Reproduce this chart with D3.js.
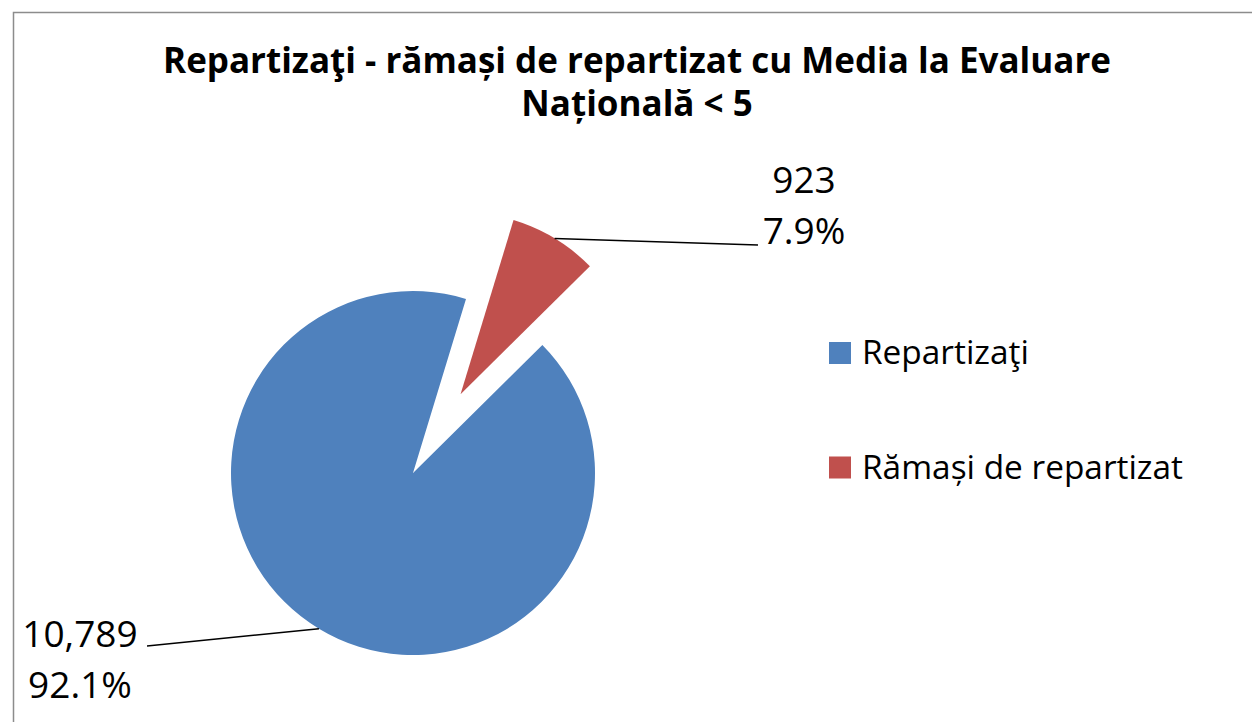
<!DOCTYPE html>
<html>
<head>
<meta charset="utf-8">
<script src="https://cdnjs.cloudflare.com/ajax/libs/d3/7.8.5/d3.min.js"></script>
<style>
  body { margin: 0; background: #fff; }
  text { font-family: "Open Sans", sans-serif; fill: #000; }
</style>
</head>
<body>
<svg width="1252" height="722"></svg>
<script>
// data
var categories = ["Repartizaţi", "Rămași de repartizat"];
var values = [10789, 923];
var colors = ["#4F81BD", "#C0504D"];
var titleLines = ["Repartizaţi - rămași de repartizat cu Media la Evaluare", "Națională < 5"];

var width = 1252, height = 722;
var svg = d3.select("svg");

// chart frame (only top + left edges visible in the crop)
svg.append("rect")
    .attr("x", 13.5).attr("y", 12.5)
    .attr("width", 1260).attr("height", 740)
    .attr("fill", "none")
    .attr("stroke", "#8c8c8c")
    .attr("stroke-width", 1.5);

// title
svg.append("text")
    .attr("text-anchor", "middle")
    .attr("font-weight", "bold")
    .attr("font-size", 35)
    .selectAll("tspan")
    .data(titleLines)
    .enter()
    .append("tspan")
    .attr("x", 637)
    .attr("y", (d, i) => 73 + i * 43)
    .text(d => d);

// pie
var cx = 413, cy = 473, r = 182;
var explode = 92;
var startAngle = 45.3 * Math.PI / 180;
var total = d3.sum(values);

var pie = d3.pie().sort(null).startAngle(startAngle).endAngle(startAngle + 2 * Math.PI);
var arc = d3.arc().innerRadius(0).outerRadius(r);
var slices = pie(values);

var g = svg.append("g").attr("transform", "translate(" + cx + "," + cy + ")");

function offset(d, i) {
    if (i !== 1) return [0, 0];
    var a = (d.startAngle + d.endAngle) / 2;
    return [Math.sin(a) * explode, -Math.cos(a) * explode];
}

g.selectAll("path")
    .data(slices)
    .enter()
    .append("path")
    .attr("d", arc)
    .attr("fill", (d, i) => colors[i])
    .attr("transform", (d, i) => "translate(" + offset(d, i) + ")");

// data labels with leader lines
var labelPos = [
    { x: 80, y1: 647, y2: 698, lineEnd: [147, 646] },
    { x: 804, y1: 193, y2: 244, lineEnd: [758, 245] }
];
var fmt = d3.format(",");

slices.forEach(function (d, i) {
    var a = (d.startAngle + d.endAngle) / 2;
    var o = offset(d, i);
    var sx = cx + o[0] + Math.sin(a) * r;
    var sy = cy + o[1] - Math.cos(a) * r;
    var lp = labelPos[i];

    svg.append("line")
        .attr("x1", sx).attr("y1", sy)
        .attr("x2", lp.lineEnd[0]).attr("y2", lp.lineEnd[1])
        .attr("stroke", "#000")
        .attr("stroke-width", 1.5);

    svg.append("text")
        .attr("x", lp.x).attr("y", lp.y1)
        .attr("text-anchor", "middle")
        .attr("font-size", 37)
        .text(fmt(values[i]));

    svg.append("text")
        .attr("x", lp.x).attr("y", lp.y2)
        .attr("text-anchor", "middle")
        .attr("font-size", 37)
        .text((values[i] / total * 100).toFixed(1) + "%");
});

// legend
var legend = svg.append("g").attr("transform", "translate(829, 342)");
var items = legend.selectAll("g")
    .data(categories)
    .enter()
    .append("g")
    .attr("transform", (d, i) => "translate(0," + i * 114.5 + ")");

items.append("rect")
    .attr("width", 22).attr("height", 22)
    .attr("fill", (d, i) => colors[i]);

items.append("text")
    .attr("x", 33).attr("y", 22)
    .attr("font-size", 33.4)
    .text(d => d);
</script>
</body>
</html>
